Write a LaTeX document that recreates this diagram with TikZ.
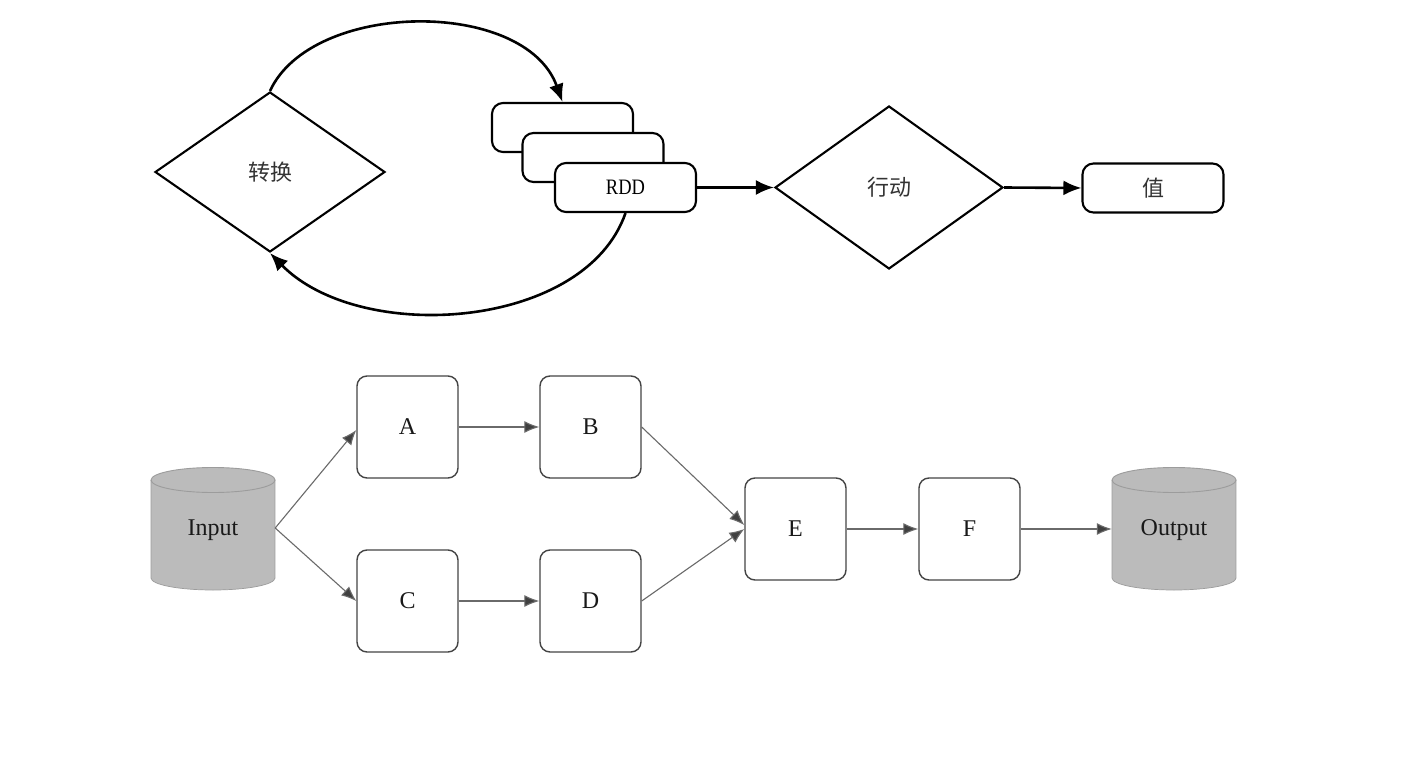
\documentclass[tikz,border=0pt]{standalone}
\usepackage{fontspec}
\usepackage{graphicx}
\setmainfont{Liberation Serif}
\newfontfamily\cjk{Noto Sans CJK SC}
\usetikzlibrary{shapes.geometric,arrows.meta}
\definecolor{cylfill}{HTML}{BBBBBB}
\definecolor{cylline}{HTML}{9C9C9C}
\definecolor{boxline}{HTML}{444444}
\definecolor{arrgray}{HTML}{6A6A6A}
\definecolor{tipgray}{HTML}{404040}
\definecolor{cjktext}{HTML}{333333}
\tikzset{
  topshape/.style={draw=black,line width=2.1pt,fill=white},
  diam/.style={topshape,diamond,minimum width=230pt,minimum height=160pt,inner sep=0pt,aspect=1.4375,font=\cjk\fontsize{22}{26}\selectfont,text=cjktext},
  rbox/.style={topshape,rectangle,rounded corners=11pt,minimum width=141pt,minimum height=49pt,inner sep=0pt},
  toparrow/.style={line width=2.6pt,-{Latex[length=18pt,width=15pt]}},
  sbox/.style={draw=boxline,line width=1.4pt,rectangle,rounded corners=10pt,minimum width=101pt,minimum height=102pt,inner sep=0pt,font=\fontsize{24}{28}\selectfont,text=black!90},
  botarrow/.style={draw=arrgray,line width=1.1pt,-{Latex[length=15pt,width=12pt,fill=tipgray]}},
  cylnode/.style={rectangle,minimum width=124pt,minimum height=123pt,inner sep=0pt,font=\fontsize{24}{28}\selectfont,text=black!90}
}
\begin{document}
\begin{tikzpicture}[x=1pt,y=-1pt]
\useasboundingbox (0,0) rectangle (1427,770);
\fill[white] (0,0) rectangle (1427,770);
% ---------- top part
\node[diam] (d1) at (270,172) {转换};
\node[rbox] (r1) at (562.5,127.5) {};
\node[rbox] (r2) at (593,157.5) {};
\node[rbox] (r3) at (625.5,187.5) {\fontsize{22}{24}\selectfont\scalebox{0.84}[1]{RDD}};
\node[diam,minimum width=228pt,minimum height=163pt,aspect=1.4] (d2) at (889,187.5) {行动};
\node[rbox,font=\cjk\fontsize{22}{26}\selectfont,text=cjktext] (val) at (1153,188) {值};
\draw[toparrow] (r3.east) -- (d2.west);
\draw[toparrow] (d2.east) -- (val.west);
\draw[toparrow] (d1.north) .. controls (312,0) and (525,-2) .. (r1.north);
\draw[toparrow] (r3.south) .. controls (585,330) and (360,345) .. (d1.south);
% ---------- bottom part
\fill[cylfill] (151,480) rectangle (275,578);
\fill[cylfill] (213,578) ellipse [x radius=62,y radius=12];
\fill[cylfill] (213,480) ellipse [x radius=62,y radius=12.5];
\draw[cylline,line width=0.7pt] (151,480) -- (151,578) arc[start angle=180,end angle=0,x radius=62,y radius=12] -- (275,480);
\draw[cylline,line width=0.9pt] (213,480) ellipse [x radius=62,y radius=12.5];
\node[cylnode] (in) at (213,530) {Input};
\fill[cylfill] (1112,480) rectangle (1236,578);
\fill[cylfill] (1174,578) ellipse [x radius=62,y radius=12];
\fill[cylfill] (1174,480) ellipse [x radius=62,y radius=12.5];
\draw[cylline,line width=0.7pt] (1112,480) -- (1112,578) arc[start angle=180,end angle=0,x radius=62,y radius=12] -- (1236,480);
\draw[cylline,line width=0.9pt] (1174,480) ellipse [x radius=62,y radius=12.5];
\node[cylnode] (out) at (1174,530) {Output};
\node[sbox] (A) at (407.5,427) {A};
\node[sbox] (B) at (590.5,427) {B};
\node[sbox] (C) at (407.5,601) {C};
\node[sbox] (D) at (590.5,601) {D};
\node[sbox] (E) at (795.5,529) {E};
\node[sbox] (F) at (969.5,529) {F};
\draw[botarrow] ([yshift=2pt]in.east) -- ([yshift=-3pt]A.west);
\draw[botarrow] ([yshift=2pt]in.east) -- (C.west);
\draw[botarrow] (A.east) -- (B.west);
\draw[botarrow] (C.east) -- (D.west);
\draw[botarrow] (B.east) -- ([yshift=4pt]E.west);
\draw[botarrow] (D.east) -- (E.west);
\draw[botarrow] (E.east) -- (F.west);
\draw[botarrow] (F.east) -- (F.east -| out.west);
\end{tikzpicture}
\end{document}
